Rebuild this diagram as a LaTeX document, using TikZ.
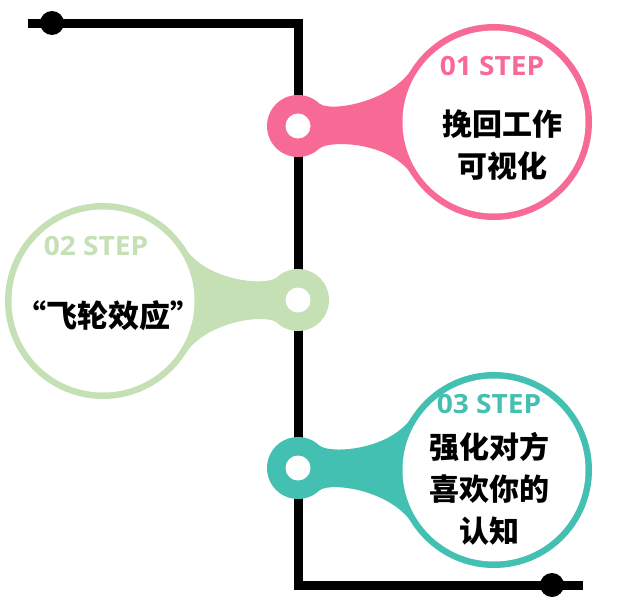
\documentclass[tikz,border=0pt]{standalone}
\usepackage{fontspec}
\setmainfont{Open Sans}
\newfontfamily\cjk{Noto Sans CJK SC}
\usetikzlibrary{calc}
\definecolor{pinkc}{HTML}{F86A96}
\definecolor{greenc}{HTML}{C5E0B4}
\definecolor{tealc}{HTML}{43C0B1}
\tikzset{
  rail/.style={line width=9pt, line join=miter, line cap=butt},
  stepnum/.style={font=\fontsize{26.5}{26.5}\selectfont\bfseries, inner sep=0pt, xscale=1.06},
  steptext/.style={font=\cjk\bfseries\fontsize{30}{42}\selectfont, inner sep=0pt, align=center, text=black},
}
% #1 colour, #2 small centre, #3 big centre, #4 direction (+1 right, -1 left)
\newcommand\stepdrop[4]{%
  \fill[#1] ($(#2)+(#4*22,-22)$) .. controls ($(#2)+(#4*34,-14)$) and ($(#3)+(-#4*104,-20)$) .. ($(#3)+(-#4*82,-53)$)
     -- (#3) -- ($(#3)+(-#4*82,53)$)
     .. controls ($(#3)+(-#4*104,20)$) and ($(#2)+(#4*34,14)$) .. ($(#2)+(#4*22,22)$) -- (#2) -- cycle;
  \fill[#1] (#3) circle[radius=98];
  \fill[white] (#3) circle[radius=91.5];
  \fill[#1] (#2) circle[radius=31];
  \fill[white] (#2) circle[radius=12.5];
}
\begin{document}
\begin{tikzpicture}[x=1pt,y=-1pt]
\useasboundingbox (0,0) rectangle (619,605);
\coordinate (tl) at (28,23);
\coordinate (tc) at (298,23);
\coordinate (bc) at (298,585);
\coordinate (br) at (583,585);
\draw[rail] (tl) -- (tc) -- (bc) -- (br);
\fill (52,23) circle[radius=12];
\fill (552,585) circle[radius=12];
\coordinate (s1) at (298,126);
\coordinate (b1) at (494,122);
\coordinate (s2) at (298,300);
\coordinate (b2) at (103,301);
\coordinate (s3) at (298,468);
\coordinate (b3) at (494,470);
\stepdrop{pinkc}{s1}{b1}{1}
\stepdrop{greenc}{s2}{b2}{-1}
\stepdrop{tealc}{s3}{b3}{1}
\node[stepnum, text=pinkc] (n1) at (492,66) {01 STEP};
\node[steptext] (t1) at (502,145) {挽回工作\\可视化};
\node[stepnum, text=greenc] (n2) at (96,246) {02 STEP};
\node[steptext, font=\cjk\bfseries\fontsize{31}{31}\selectfont] (t2) at (109,316) {“飞轮效应”};
\node[stepnum, text=tealc] (n3) at (489,404) {03 STEP};
\node[steptext] (t3) at (489,489) {强化对方\\喜欢你的\\认知};
\end{tikzpicture}
\end{document}
